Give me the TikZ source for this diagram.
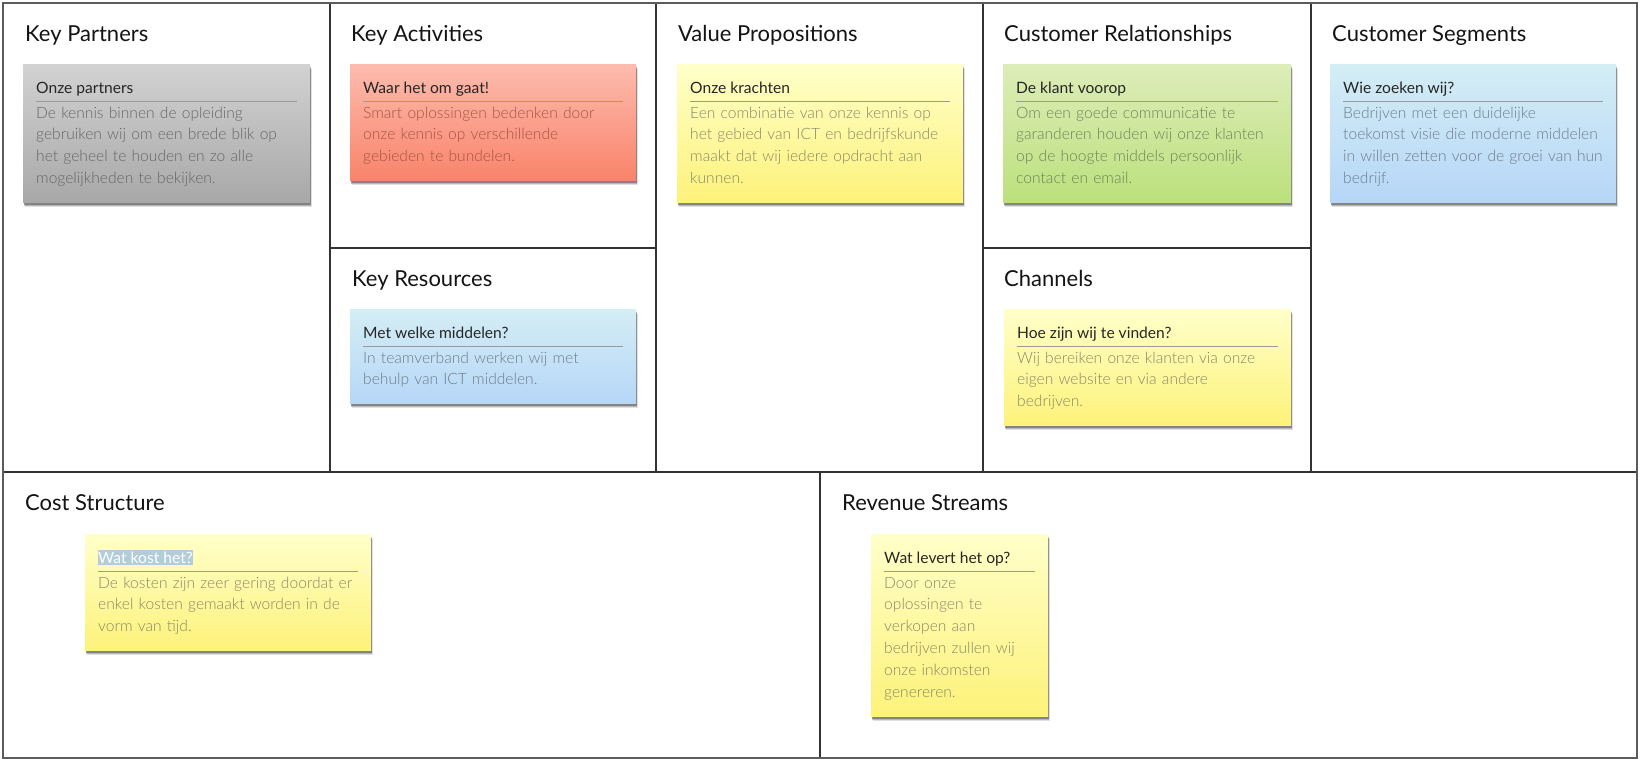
\documentclass[tikz,border=0pt]{standalone}
\usepackage{fontspec}
\setmainfont{Lato}
\IfFontExistsTF{Lato Light}{\newfontfamily\bodyfont{Lato Light}}{\newcommand\bodyfont{}}
\usetikzlibrary{shadows}
\definecolor{framecol}{HTML}{333333}
\definecolor{greytop}{HTML}{D2D2D2}
\definecolor{greybot}{HTML}{A8A8A8}
\definecolor{greytxt}{HTML}{666666}
\definecolor{redtop}{HTML}{FDBCAE}
\definecolor{redbot}{HTML}{F9836A}
\definecolor{redtxt}{HTML}{A55443}
\definecolor{yeltop}{HTML}{FFFFC9}
\definecolor{yelbot}{HTML}{FDF27A}
\definecolor{yeltxt}{HTML}{878768}
\definecolor{grntop}{HTML}{DDEDB9}
\definecolor{grnbot}{HTML}{BCE07C}
\definecolor{grntxt}{HTML}{6E8259}
\definecolor{blutop}{HTML}{D4EEF5}
\definecolor{blubot}{HTML}{B6D6F7}
\definecolor{blutxt}{HTML}{6C7C8C}
\definecolor{rulecol}{HTML}{9A9A9A}
\definecolor{selbg}{HTML}{B2CDD8}
\newcommand\hlsel[1]{{\setlength\fboxsep{0pt}\colorbox{selbg}{\rule[-2pt]{0pt}{15pt}\color{white}#1}}}
\tikzset{
  gridline/.style={draw=framecol, line width=1.2pt},
  outerline/.style={draw=framecol!80, line width=1.6pt},
  sectitle/.style={inner sep=0pt, font=\fontsize{22}{26}\selectfont, text=black!92},
  cardbox/.style={inner sep=0pt, draw=none,
    general shadow={shadow xshift=1.5pt, shadow yshift=-4.5pt, opacity=0.12, fill=black},
    general shadow={shadow xshift=1pt, shadow yshift=-3.5pt, opacity=0.18, fill=black},
    general shadow={shadow xshift=0.6pt, shadow yshift=-2.5pt, opacity=0.28, fill=black}},
  greycard/.style={top color=greytop, bottom color=greybot},
  redcard/.style={top color=redtop, bottom color=redbot},
  yelcard/.style={top color=yeltop, bottom color=yelbot},
  grncard/.style={top color=grntop, bottom color=grnbot},
  blucard/.style={top color=blutop, bottom color=blubot},
  greytext/.style={text=greytxt},
  redtext/.style={text=redtxt},
  yeltext/.style={text=yeltxt},
  grntext/.style={text=grntxt},
  blutext/.style={text=blutxt},
  cardtitle/.style={inner sep=0pt, font=\fontsize{15.6}{18}\selectfont, text=black!85},
  cardrule/.style={draw=rulecol, line width=0.9pt},
  cardbody/.style={inner sep=0pt, align=left, font=\bodyfont\fontsize{15.6}{21.8}\selectfont},
}
% #1 name, #2 colour, #3 x, #4 y, #5 width, #6 lines, #7 title, #8 body
\newcommand\card[8]{%
  \pgfmathsetmacro\cardh{51+21.8*#6}%
  \node[cardbox, #2card, minimum width=#5pt, minimum height=\cardh pt, anchor=north west] (#1) at (#3,#4) {};
  \node[cardtitle, anchor=base west] (#1-t) at ([xshift=13pt,yshift=-29pt]#1.north west) {#7};
  \draw[cardrule] ([xshift=13pt,yshift=-37pt]#1.north west) -- ([xshift=-13pt,yshift=-37pt]#1.north east);
  \node[cardbody, #2text, text width=#5pt, anchor=base west] (#1-b) at ([xshift=13pt,yshift=-54pt]#1.north west) {#8};
}
\begin{document}
\begin{tikzpicture}[x=1pt,y=-1pt]
\useasboundingbox (0,0) rectangle (1640,761);
\fill[white] (0,0) rectangle (1640,761);
% grid
\draw[gridline] (330,3) -- (330,472);
\draw[gridline] (656,3) -- (656,472);
\draw[gridline] (983,3) -- (983,472);
\draw[gridline] (1311,3) -- (1311,472);
\draw[gridline] (330,248) -- (656,248);
\draw[gridline] (983,248) -- (1311,248);
\draw[gridline] (3,472) -- (1637,472);
\draw[gridline] (820,472) -- (820,758);
\draw[outerline] (3,3) rectangle (1637,758);
% section titles
\node[sectitle, anchor=base west] (kp) at (25,41) {Key Partners};
\node[sectitle, anchor=base west] (ka) at (351,41) {Key Activities};
\node[sectitle, anchor=base west] (vp) at (678,41) {Value Propositions};
\node[sectitle, anchor=base west] (cr) at (1004,41) {Customer Relationships};
\node[sectitle, anchor=base west] (cs) at (1332,41) {Customer Segments};
\node[sectitle, anchor=base west] (kr) at (352,286) {Key Resources};
\node[sectitle, anchor=base west] (ch) at (1004,286) {Channels};
\node[sectitle, anchor=base west] (cost) at (25,510) {Cost Structure};
\node[sectitle, anchor=base west] (rev) at (842,510) {Revenue Streams};
% cards
\card{c1}{grey}{23}{64}{287}{4}{Onze partners}{De kennis binnen de opleiding\\gebruiken wij om een brede blik op\\het geheel te houden en zo alle\\mogelijkheden te bekijken.}
\card{c2}{red}{350}{64}{286}{3}{Waar het om gaat!}{Smart oplossingen bedenken door\\onze kennis op verschillende\\gebieden te bundelen.}
\card{c3}{yel}{677}{64}{286}{4}{Onze krachten}{Een combinatie van onze kennis op\\het gebied van ICT en bedrijfskunde\\maakt dat wij iedere opdracht aan\\kunnen.}
\card{c4}{grn}{1003}{64}{288}{4}{De klant voorop}{Om een goede communicatie te\\garanderen houden wij onze klanten\\op de hoogte middels persoonlijk\\contact en email.}
\card{c5}{blu}{1330}{64}{286}{4}{Wie zoeken wij?}{Bedrijven met een duidelijke\\toekomst visie die moderne middelen\\in willen zetten voor de groei van hun\\bedrijf.}
\card{c6}{blu}{350}{309}{286}{2}{Met welke middelen?}{In teamverband werken wij met\\behulp van ICT middelen.}
\card{c7}{yel}{1004}{309}{287}{3}{Hoe zijn wij te vinden?}{Wij bereiken onze klanten via onze\\eigen website en via andere\\bedrijven.}
\card{c8}{yel}{85}{534}{286}{3}{\hlsel{Wat kost het?}}{De kosten zijn zeer gering doordat er\\enkel kosten gemaakt worden in de\\vorm van tijd.}
\card{c9}{yel}{871}{534}{177}{6}{Wat levert het op?}{Door onze\\oplossingen te\\verkopen aan\\bedrijven zullen wij\\onze inkomsten\\genereren.}
\end{tikzpicture}
\end{document}
